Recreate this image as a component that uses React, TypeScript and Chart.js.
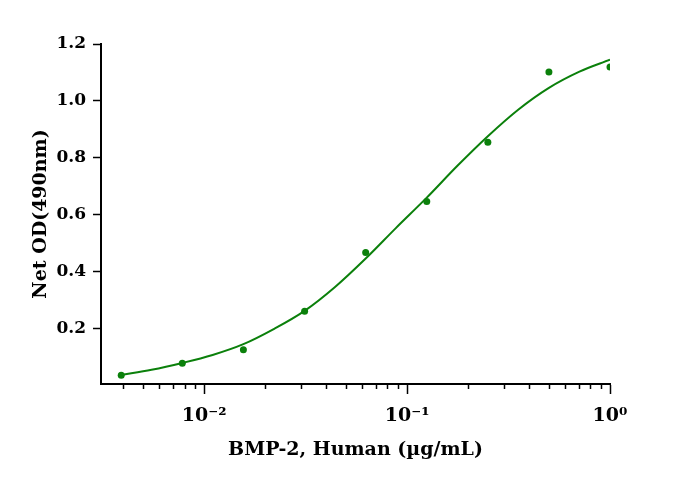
import React, { useEffect, useRef } from "react";
import Chart from "chart.js/auto";

// measured points (µg/mL vs OD)
const concentrations = [0.0039, 0.0078, 0.0156, 0.03125, 0.0625, 0.125, 0.25, 0.5, 1];
const odValues = [0.036, 0.078, 0.125, 0.261, 0.467, 0.646, 0.855, 1.102, 1.119];

// fitted curve
const curveX = [0.0039, 0.0055, 0.0078, 0.011, 0.0156, 0.022, 0.03125, 0.044, 0.0625, 0.088, 0.125, 0.177, 0.25, 0.354, 0.5, 0.707, 1];
const curveY = [0.037, 0.055, 0.079, 0.107, 0.145, 0.198, 0.262, 0.345, 0.446, 0.553, 0.66, 0.772, 0.876, 0.97, 1.046, 1.103, 1.145];

const xMajorTicks = [0.01, 0.1, 1];
const xMajorLabels = ["10⁻²", "10⁻¹", "10⁰"];
const xMinorTicks = [
  0.004, 0.005, 0.006, 0.007, 0.008, 0.009,
  0.02, 0.03, 0.04, 0.05, 0.06, 0.07, 0.08, 0.09,
  0.2, 0.3, 0.4, 0.5, 0.6, 0.7, 0.8, 0.9,
];
const yTicks = [0.2, 0.4, 0.6, 0.8, 1.0, 1.2];

const GREEN = "#0b800b";
const FONT = "'DejaVu Serif', serif";

const minorTickPlugin = {
  id: "minorTicks",
  afterDraw(chart: any) {
    const xs = chart.scales.x;
    const ctx = chart.ctx;
    ctx.save();
    ctx.strokeStyle = "#000";
    ctx.lineWidth = 1.5;
    xMinorTicks.forEach((v) => {
      const px = Math.round(xs.getPixelForValue(v)) + 0.5;
      ctx.beginPath();
      ctx.moveTo(px, xs.top);
      ctx.lineTo(px, xs.top + 5);
      ctx.stroke();
    });
    ctx.restore();
  },
};

const DoseResponseChart: React.FC = () => {
  const canvasRef = useRef<HTMLCanvasElement | null>(null);

  useEffect(() => {
    if (!canvasRef.current) return;

    const chart = new Chart(canvasRef.current, {
      type: "scatter",
      data: {
        datasets: [
          {
            label: "points",
            data: concentrations.map((c, i) => ({ x: c, y: odValues[i] })),
            backgroundColor: GREEN,
            borderWidth: 0,
            pointRadius: 3.5,
            showLine: false,
          },
          {
            label: "fit",
            data: curveX.map((c, i) => ({ x: c, y: curveY[i] })),
            borderColor: GREEN,
            borderWidth: 2,
            pointRadius: 0,
            showLine: true,
            cubicInterpolationMode: "monotone",
          },
        ],
      },
      options: {
        animation: false,
        responsive: true,
        maintainAspectRatio: false,
        layout: { padding: { left: 0, right: 79, top: 44, bottom: 0 } },
        plugins: {
          legend: { display: false },
          tooltip: { enabled: false },
        },
        scales: {
          x: {
            type: "logarithmic",
            min: 0.0031,
            max: 1,
            afterBuildTicks: (scale: any) => {
              scale.ticks = xMajorTicks.map((v) => ({ value: v, major: true }));
            },
            afterFit: (scale: any) => {
              scale.height = 97;
            },
            ticks: {
              color: "#000",
              padding: 11,
              maxRotation: 0,
              autoSkip: false,
              font: { family: FONT, size: 19, weight: "bold" },
              callback: (value: any) => {
                const idx = xMajorTicks.findIndex((t) => Math.abs(t - Number(value)) < 1e-9);
                return idx >= 0 ? xMajorLabels[idx] : "";
              },
            },
            grid: {
              drawOnChartArea: false,
              tickLength: 10,
              tickWidth: 1.5,
              color: "#000",
            },
            border: { display: true, color: "#000", width: 2 },
            title: {
              display: true,
              text: "BMP-2, Human (µg/mL)",
              color: "#000",
              font: { family: FONT, size: 19, weight: "bold" },
              padding: { top: 0, bottom: 20 },
            },
          },
          y: {
            min: 0.005,
            max: 1.2,
            afterBuildTicks: (scale: any) => {
              scale.ticks = yTicks.map((v) => ({ value: v }));
            },
            afterFit: (scale: any) => {
              scale.width = 101;
            },
            ticks: {
              color: "#000",
              padding: 7,
              font: { family: FONT, size: 17, weight: "bold" },
              callback: (value: any) => Number(value).toFixed(1),
            },
            grid: {
              drawOnChartArea: false,
              tickLength: 8,
              tickWidth: 1.5,
              color: "#000",
            },
            border: { display: true, color: "#000", width: 2 },
            title: {
              display: true,
              text: "Net OD(490nm)",
              color: "#000",
              font: { family: FONT, size: 19, weight: "bold" },
              padding: { top: 30, bottom: 0 },
            },
          },
        },
      },
      plugins: [minorTickPlugin],
    });

    return () => {
      chart.destroy();
    };
  }, []);

  return (
    <div style={{ position: "absolute", left: 0, top: 0, width: "689px", height: "481px", background: "#fff" }}>
      <canvas ref={canvasRef} />
    </div>
  );
};

export default function App() {
  return <DoseResponseChart />;
}
